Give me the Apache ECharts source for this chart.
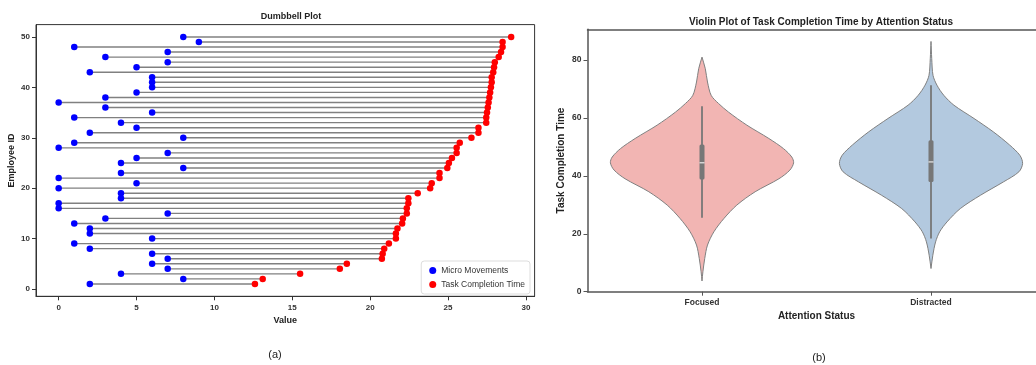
<!DOCTYPE html>
<html lang="en">
<head>
    <meta charset="UTF-8">
    <title>Dumbbell and Violin Plots</title>
    <script src="https://cdn.jsdelivr.net/npm/echarts@6/dist/echarts.min.js"></script>
    <style>
        html, body { margin: 0; padding: 0; background: #fff; }
        #chart { width: 1036px; height: 365px; }
    </style>
</head>
<body>
    <div id="chart"></div>

    <script>
        // (a) dumbbell data, one row per employee
        const employeeIds = [];
        for (let i = 1; i <= 50; i++) employeeIds.push(i);
        const microMovements = [
            2, 8, 4, 7, 6, 7, 6, 2, 1, 6,
            2, 2, 1, 3, 7, 0, 0, 4, 4, 0,
            5, 0, 4, 8, 4, 5, 7, 0, 1, 8,
            2, 5, 4, 1, 6, 3, 0, 3, 5, 6,
            6, 6, 2, 5, 7, 3, 7, 1, 9, 8
        ];
        const taskTimes = [
            12.6, 13.1, 15.5, 18.05, 18.5, 20.75, 20.8, 20.9, 21.2, 21.65,
            21.65, 21.75, 22.05, 22.1, 22.35, 22.35, 22.45, 22.45, 23.05, 23.85,
            23.95, 24.45, 24.45, 24.95, 25.05, 25.25, 25.55, 25.55, 25.75, 26.5,
            26.95, 26.95, 27.45, 27.45, 27.5, 27.55, 27.6, 27.65, 27.7, 27.75,
            27.8, 27.8, 27.9, 27.95, 28.0, 28.25, 28.4, 28.5, 28.5, 29.05
        ];
        const dumbbellXTicks = [0, 5, 10, 15, 20, 25, 30];
        const dumbbellYTicks = [0, 10, 20, 30, 40, 50];

        // (b) violin data: outline read as (value, relative half width)
        const attentionStatus = ['Focused', 'Distracted'];
        const focusedProfile = [
            [3.7, 0], [6.9, 0.01], [11.5, 0.03], [16.1, 0.06], [20.7, 0.13],
            [25.3, 0.24], [29.9, 0.38], [34.5, 0.58], [39, 0.84], [42, 0.96],
            [44.5, 1.0], [46.5, 0.98], [49.4, 0.89], [52.9, 0.73], [57.5, 0.49],
            [62, 0.29], [65, 0.18], [67.8, 0.1], [72.4, 0.06], [77, 0.036], [81, 0]
        ];
        const distractedProfile = [
            [8, 0], [12.6, 0.02], [17.2, 0.05], [20.7, 0.095], [24.1, 0.175],
            [28.7, 0.32], [33.3, 0.54], [37.9, 0.79], [41.4, 0.96], [44.3, 1.0],
            [47.1, 0.97], [50.6, 0.86], [55.2, 0.68], [59.8, 0.47], [64.4, 0.25],
            [67.8, 0.14], [71.3, 0.065], [74.7, 0.022], [80.5, 0.008], [86.4, 0]
        ];
        // whisker low, q1, median, q3, whisker high
        const focusedBox = [25.5, 38.7, 44.5, 50.8, 64];
        const distractedBox = [18.4, 37.9, 44.8, 52.3, 71.3];
        const violinYTicks = [0, 20, 40, 60, 80];

        const profiles = [focusedProfile, distractedProfile];
        const boxes = [focusedBox, distractedBox];
        const violinColors = ['#f2b5b3', '#b3c9df'];

        const font = 'Liberation Sans, Arial, sans-serif';

        var chartDom = document.getElementById('chart');
        var myChart = echarts.init(chartDom, null, { renderer: 'canvas' });

        function renderViolin(params, api) {
            const idx = api.value(0);
            const profile = profiles[idx];
            const box = boxes[idx];
            const band = api.size([1, 0])[0];
            const maxHalf = band * 0.4;
            const left = [];
            const right = [];
            profile.forEach(p => {
                const c = api.coord([idx, p[0]]);
                left.push([c[0] - p[1] * maxHalf, c[1]]);
                right.push([c[0] + p[1] * maxHalf, c[1]]);
            });
            const points = left.concat(right.reverse());
            const lo = api.coord([idx, box[0]]);
            const q1 = api.coord([idx, box[1]]);
            const med = api.coord([idx, box[2]]);
            const q3 = api.coord([idx, box[3]]);
            const hi = api.coord([idx, box[4]]);
            const bw = 5;
            return {
                type: 'group',
                children: [
                    {
                        type: 'polygon',
                        shape: { points: points, smooth: 0.3 },
                        style: { fill: violinColors[idx], stroke: '#808080', lineWidth: 1 }
                    },
                    {
                        type: 'line',
                        shape: { x1: lo[0], y1: lo[1], x2: hi[0], y2: hi[1] },
                        style: { stroke: '#777', lineWidth: 1.8 }
                    },
                    {
                        type: 'rect',
                        shape: { x: q3[0] - bw / 2, y: q3[1], width: bw, height: q1[1] - q3[1], r: 1.5 },
                        style: { fill: '#777' }
                    },
                    {
                        type: 'line',
                        shape: { x1: med[0] - bw / 2, y1: med[1], x2: med[0] + bw / 2, y2: med[1] },
                        style: { stroke: '#fff', lineWidth: 1 }
                    }
                ]
            };
        }

        function renderStick(params, api) {
            const a = api.coord([api.value(1), api.value(0)]);
            const b = api.coord([api.value(2), api.value(0)]);
            return {
                type: 'line',
                shape: { x1: a[0], y1: a[1], x2: b[0], y2: b[1] },
                style: { stroke: '#808080', lineWidth: 1.4 }
            };
        }

        var tickLabel = { fontFamily: font, fontSize: 8, fontWeight: 'bold', color: '#333' };

        var option = {
            backgroundColor: '#fff',
            animation: false,
            textStyle: { fontFamily: font },
            title: [
                { text: 'Dumbbell Plot', left: 286, top: 7, textAlign: 'center',
                  textStyle: { fontSize: 9, fontWeight: 'bold', color: '#222', fontFamily: font } },
                { text: 'Violin Plot of Task Completion Time by Attention Status', left: 816, top: 12, textAlign: 'center',
                  textStyle: { fontSize: 10, fontWeight: 'bold', color: '#222', fontFamily: font } },
                { text: '(a)', left: 270, top: 344, textAlign: 'center',
                  textStyle: { fontSize: 11, fontWeight: 'normal', color: '#222', fontFamily: font } },
                { text: '(b)', left: 814, top: 347, textAlign: 'center',
                  textStyle: { fontSize: 11, fontWeight: 'normal', color: '#222', fontFamily: font } }
            ],
            legend: {
                data: [
                    { name: 'Micro Movements', icon: 'circle' },
                    { name: 'Task Completion Time', icon: 'circle' }
                ],
                orient: 'vertical',
                right: 506,
                bottom: 71,
                itemWidth: 7,
                itemHeight: 7,
                itemGap: 5,
                padding: [5, 5, 5, 8],
                borderColor: '#ddd',
                borderWidth: 1,
                borderRadius: 3,
                backgroundColor: '#fff',
                textStyle: { fontSize: 8.5, color: '#333', fontFamily: font }
            },
            grid: [
                { left: 36, top: 24.6, width: 498.6, height: 271.7, show: true, borderColor: '#333', borderWidth: 1,
                  outerBoundsMode: 'none' },
                { left: 587.5, top: 29.3, width: 458, height: 262.4, show: false,
                  outerBoundsMode: 'none' }
            ],
            xAxis: [
                {
                    type: 'value', gridIndex: 0, min: -1.455, max: 30.555,
                    name: 'Value', nameLocation: 'middle', nameGap: 19,
                    nameTextStyle: { fontSize: 9, fontWeight: 'bold', color: '#222', fontFamily: font },
                    axisLine: { show: true, onZero: false, lineStyle: { color: '#333' } },
                    axisTick: { show: true, length: 4, customValues: dumbbellXTicks, lineStyle: { color: '#333' } },
                    axisLabel: Object.assign({ customValues: dumbbellXTicks, margin: 7 }, tickLabel),
                    splitLine: { show: false }
                },
                {
                    type: 'category', gridIndex: 1, data: attentionStatus, boundaryGap: true,
                    name: 'Attention Status', nameLocation: 'middle', nameGap: 17,
                    nameTextStyle: { fontSize: 10, fontWeight: 'bold', color: '#222', fontFamily: font },
                    axisLine: { show: true, onZero: false, lineStyle: { color: '#555', width: 1.5 } },
                    axisTick: { show: true, alignWithLabel: true, length: 4, lineStyle: { color: '#555' } },
                    axisLabel: Object.assign({ margin: 6 }, tickLabel, { fontSize: 8.5 }),
                    splitLine: { show: false }
                },
                {
                    // top spine of the violin panel
                    type: 'category', gridIndex: 1, data: attentionStatus, position: 'top',
                    axisLine: { show: true, onZero: false, lineStyle: { color: '#555', width: 1.5 } },
                    axisTick: { show: false },
                    axisLabel: { show: false },
                    splitLine: { show: false }
                }
            ],
            yAxis: [
                {
                    type: 'value', gridIndex: 0, min: -1.45, max: 52.45,
                    name: 'Employee ID', nameLocation: 'middle', nameGap: 20,
                    nameTextStyle: { fontSize: 9, fontWeight: 'bold', color: '#222', fontFamily: font },
                    axisLine: { show: true, onZero: false, lineStyle: { color: '#333' } },
                    axisTick: { show: true, length: 4, customValues: dumbbellYTicks, lineStyle: { color: '#333' } },
                    axisLabel: Object.assign({ customValues: dumbbellYTicks, margin: 6 }, tickLabel),
                    splitLine: { show: false }
                },
                {
                    type: 'value', gridIndex: 1, min: 0, max: 90.6,
                    name: 'Task Completion Time', nameLocation: 'middle', nameGap: 21,
                    nameTextStyle: { fontSize: 10, fontWeight: 'bold', color: '#222', fontFamily: font },
                    axisLine: { show: true, onZero: false, lineStyle: { color: '#555', width: 1.5 } },
                    axisTick: { show: true, length: 4, customValues: violinYTicks, lineStyle: { color: '#555' } },
                    axisLabel: Object.assign({ customValues: violinYTicks, margin: 6 }, tickLabel, { fontSize: 8.5 }),
                    splitLine: { show: false }
                }
            ],
            series: [
                {
                    type: 'custom',
                    xAxisIndex: 0, yAxisIndex: 0,
                    renderItem: renderStick,
                    encode: { x: [1, 2], y: 0 },
                    data: employeeIds.map((id, i) => [id, microMovements[i], taskTimes[i]]),
                    z: 1,
                    silent: true
                },
                {
                    name: 'Micro Movements',
                    type: 'scatter',
                    xAxisIndex: 0, yAxisIndex: 0,
                    symbolSize: 6.5,
                    itemStyle: { color: '#0000ff', opacity: 1 },
                    data: employeeIds.map((id, i) => [microMovements[i], id]),
                    z: 3
                },
                {
                    name: 'Task Completion Time',
                    type: 'scatter',
                    xAxisIndex: 0, yAxisIndex: 0,
                    symbolSize: 6.5,
                    itemStyle: { color: '#ff0000', opacity: 1 },
                    data: employeeIds.map((id, i) => [taskTimes[i], id]),
                    z: 3
                },
                {
                    type: 'custom',
                    xAxisIndex: 1, yAxisIndex: 1,
                    renderItem: renderViolin,
                    encode: { x: 0 },
                    data: attentionStatus.map((s, i) => [i]),
                    silent: true
                }
            ]
        };
        myChart.setOption(option);
    </script>
</body>
</html>
